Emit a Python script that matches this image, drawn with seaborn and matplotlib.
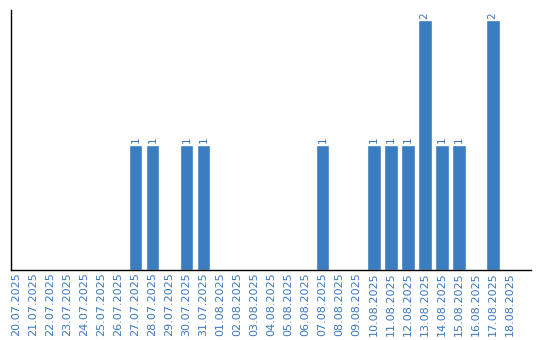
import matplotlib
matplotlib.use("Agg")
import matplotlib.pyplot as plt
import seaborn as sns
import pandas as pd

dates = ["20.07.2025", "21.07.2025", "22.07.2025", "23.07.2025", "24.07.2025",
         "25.07.2025", "26.07.2025", "27.07.2025", "28.07.2025", "29.07.2025",
         "30.07.2025", "31.07.2025", "01.08.2025", "02.08.2025", "03.08.2025",
         "04.08.2025", "05.08.2025", "06.08.2025", "07.08.2025", "08.08.2025",
         "09.08.2025", "10.08.2025", "11.08.2025", "12.08.2025", "13.08.2025",
         "14.08.2025", "15.08.2025", "16.08.2025", "17.08.2025", "18.08.2025"]
counts = [0, 0, 0, 0, 0, 0, 0, 1, 1, 0,
          1, 1, 0, 0, 0, 0, 0, 0, 1, 0,
          0, 1, 1, 1, 2, 1, 1, 0, 2, 0]

df = pd.DataFrame({"date": dates, "count": counts})

sns.set_style("white")
plt.rcParams["font.family"] = ["DejaVu Sans"]

bar_color = "#3b7dc1"
text_color = "#3a78bd"

fig = plt.figure(figsize=(5.4, 3.4), dpi=100)
left, right, top, bottom = 10.5, 531, 10, 269.5
ax = fig.add_axes([left/540, 1 - bottom/340, (right - left)/540, (bottom - top)/340])

sns.barplot(data=df, x="date", y="count", color=bar_color, width=0.82,
            saturation=1, ax=ax, order=dates)

for i, v in enumerate(counts):
    if v > 0:
        ax.text(i, v + 0.015, str(v), rotation=90, ha="center", va="bottom",
                fontsize=7.5, color=text_color)

ax.set_ylim(0, 2.084)
ax.set_xlim(-0.35, 30.26)
ax.set_xlabel("")
ax.set_ylabel("")
ax.set_yticks([])
ax.tick_params(axis="x", length=0, pad=2)
ax.set_xticks(range(len(dates)))
ax.set_xticklabels(dates, rotation=90, fontsize=8, color=text_color)
for s in ["top", "right"]:
    ax.spines[s].set_visible(False)
for s in ["left", "bottom"]:
    ax.spines[s].set_color("black")
    ax.spines[s].set_linewidth(1)

fig.savefig("out.png", dpi=100)
